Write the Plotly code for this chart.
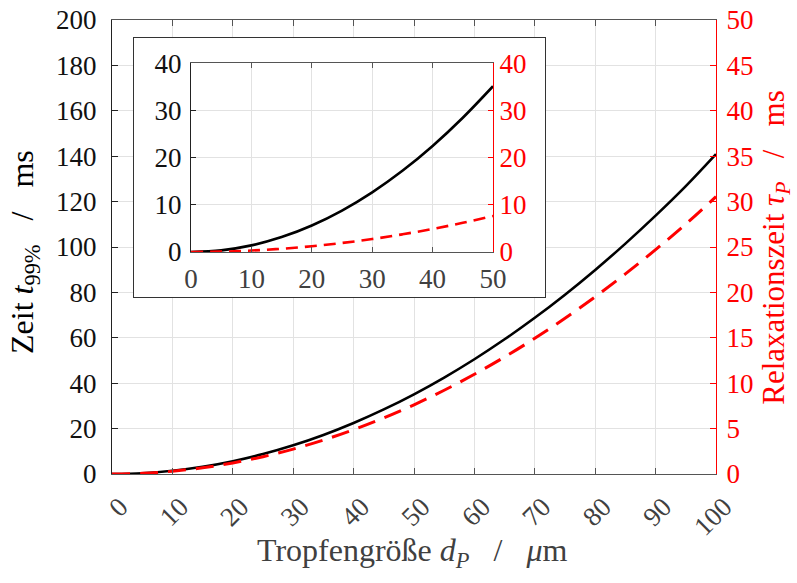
import plotly.graph_objects as go

# Data
d_um = [0, 5, 10, 15, 20, 25, 30, 35, 40, 45, 50, 55, 60, 65, 70, 75, 80, 85, 90, 95, 100]
t99_ms = [0, 0.35, 1.40, 3.16, 5.62, 8.78, 12.64, 17.2, 22.47, 28.44, 35.11,
          42.49, 50.56, 59.34, 68.82, 79.0, 89.9, 101.5, 113.8, 126.8, 140.9]
tau_ms = [0, 0.076, 0.305, 0.686, 1.22, 1.906, 2.745, 3.736, 4.88, 6.176, 7.625,
          9.226, 10.98, 12.886, 14.945, 17.156, 19.52, 22.036, 24.705, 27.526, 30.55]

x_ticks_main = [0, 10, 20, 30, 40, 50, 60, 70, 80, 90, 100]
n_in = d_um.index(50) + 1
d_in, t99_in, tau_in = d_um[:n_in], t99_ms[:n_in], tau_ms[:n_in]

FONT = "Liberation Serif"
FS = 27
TFS = 32
GRID = "#e2e2e2"
RED = "#ff0000"
SP = "&nbsp;&nbsp;&nbsp;"

fig = go.Figure()
fig.add_trace(go.Scatter(x=d_um, y=t99_ms, mode="lines", line=dict(color="black", width=2.6, shape="spline"),
                         xaxis="x", yaxis="y", showlegend=False))
fig.add_trace(go.Scatter(x=d_um, y=tau_ms, mode="lines",
                         line=dict(color=RED, width=3, dash="18px,10px", shape="spline"),
                         xaxis="x", yaxis="y2", showlegend=False))
# empty frame subplot for the white inset box
fig.add_trace(go.Scatter(x=[None], y=[None], mode="lines", xaxis="x2", yaxis="y5",
                         showlegend=False, hoverinfo="skip"))
fig.add_trace(go.Scatter(x=d_in, y=t99_in, mode="lines", line=dict(color="black", width=2.6, shape="spline"),
                         xaxis="x3", yaxis="y3", showlegend=False))
fig.add_trace(go.Scatter(x=d_in, y=tau_in, mode="lines",
                         line=dict(color=RED, width=2.6, dash="12px,7px", shape="spline"),
                         xaxis="x3", yaxis="y4", showlegend=False))

fig.update_layout(
    width=797, height=583,
    margin=dict(l=112, r=81, t=20, b=109, autoexpand=False),
    showlegend=False,
    paper_bgcolor="white", plot_bgcolor="white",
    font=dict(family=FONT, size=FS, color="black"),
    xaxis=dict(domain=[0, 1], range=[0, 100], tickvals=x_ticks_main, tickangle=-45,
               showgrid=True, gridcolor=GRID, gridwidth=1, linecolor="#555555", linewidth=1.3,
               mirror="ticks", ticklen=6, tickcolor="#555555", automargin=False,
               ticklabelshift=8, ticklabelstandoff=5,
               tickfont=dict(family=FONT, size=FS, color="#404040"), ticks="inside",
               showline=True, zeroline=False),
    yaxis=dict(range=[0, 200], dtick=20, showgrid=True, gridcolor=GRID, gridwidth=1,
               linecolor="#222222", linewidth=1.3, ticklen=6, tickcolor="#222222", automargin=False,
               ticklabelstandoff=9,
               tickfont=dict(family=FONT, size=FS, color="#111111"), ticks="inside",
               showline=True, zeroline=False),
    yaxis2=dict(overlaying="y", side="right", anchor="x", range=[0, 50], dtick=5, showgrid=False,
                linecolor=RED, linewidth=1.3, ticklen=6, tickcolor=RED, automargin=False,
                ticklabelstandoff=4,
                tickfont=dict(family=FONT, size=FS, color=RED), ticks="inside",
                showline=True, zeroline=False),
    xaxis2=dict(domain=[0.0364, 0.717], anchor="y5", range=[0, 1], showgrid=False, zeroline=False,
                showticklabels=False, ticks="", showline=True, mirror=True, automargin=False,
                linecolor="#333333", linewidth=1.3),
    yaxis5=dict(domain=[0.390, 0.960], anchor="x2", range=[0, 1], showgrid=False, zeroline=False,
                showticklabels=False, ticks="", showline=True, mirror=True, automargin=False,
                linecolor="#333333", linewidth=1.3),
    xaxis3=dict(domain=[0.1308, 0.6308], anchor="y3", range=[0, 50], dtick=10,
                showgrid=True, gridcolor=GRID, gridwidth=1, linecolor="#555555", linewidth=1.3,
                mirror="ticks", ticklen=5, tickcolor="#555555", automargin=False,
                ticklabelstandoff=2,
                tickfont=dict(family=FONT, size=FS, color="#404040"), ticks="inside",
                showline=True, zeroline=False),
    yaxis3=dict(domain=[0.489, 0.905], anchor="x3", range=[0, 40], dtick=10,
                showgrid=True, gridcolor=GRID, gridwidth=1, linecolor="#222222", linewidth=1.3,
                ticklen=5, tickcolor="#222222", automargin=False, ticklabelstandoff=3,
                tickfont=dict(family=FONT, size=FS, color="#111111"), ticks="inside",
                showline=True, zeroline=False),
    yaxis4=dict(overlaying="y3", side="right", anchor="x3", range=[0, 40], dtick=10, showgrid=False,
                linecolor=RED, linewidth=1.3, ticklen=5, tickcolor=RED, automargin=False,
                tickfont=dict(family=FONT, size=FS, color=RED), ticks="inside",
                showline=True, zeroline=False),
    annotations=[
        dict(text="Zeit <i>t</i><sub>99%</sub>" + SP + "/" + SP + "ms", xref="paper", yref="paper",
             x=-0.145, y=0.49, textangle=-90, showarrow=False, xanchor="center", yanchor="middle",
             font=dict(family=FONT, size=TFS, color="black")),
        dict(text="Relaxationszeit <i>τ</i><sub><i>P</i></sub>" + SP + "/" + SP + "ms",
             xref="paper", yref="paper",
             x=1.099, y=0.5, textangle=-90, showarrow=False, xanchor="center", yanchor="middle",
             font=dict(family=FONT, size=31, color=RED)),
        dict(text="Tropfengröße <i>d</i><sub><i>P</i></sub>" + SP + "/" + SP + "<i>μ</i>m",
             xref="paper", yref="paper",
             x=0.497, y=-0.174, showarrow=False, xanchor="center", yanchor="middle",
             font=dict(family=FONT, size=TFS, color="#404040")),
    ],
)

fig.write_html("out.html")
